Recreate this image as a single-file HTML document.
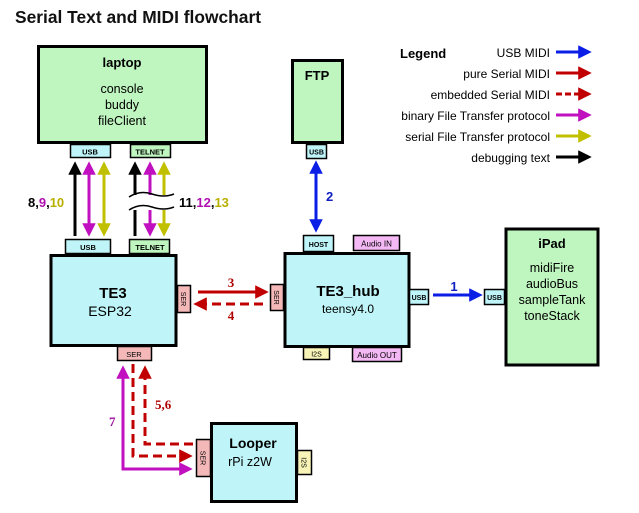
<!DOCTYPE html>
<html><head><style>
body{margin:0;background:#fff}
svg{display:block;font-family:"Liberation Sans",sans-serif}
</style></head><body>
<svg width="639" height="513" viewBox="0 0 639 513" xmlns="http://www.w3.org/2000/svg">
<defs>
<marker id="ab" viewBox="0 0 10 10" refX="8" refY="5" markerWidth="4.5" markerHeight="4.5" orient="auto-start-reverse"><path d="M0,0L10,5L0,10z" fill="#0a1ee6"/></marker>
<marker id="ar" viewBox="0 0 10 10" refX="8" refY="5" markerWidth="4.5" markerHeight="4.5" orient="auto-start-reverse"><path d="M0,0L10,5L0,10z" fill="#c00000"/></marker>
<marker id="am" viewBox="0 0 10 10" refX="8" refY="5" markerWidth="4.5" markerHeight="4.5" orient="auto-start-reverse"><path d="M0,0L10,5L0,10z" fill="#c010c0"/></marker>
<marker id="ay" viewBox="0 0 10 10" refX="8" refY="5" markerWidth="4.5" markerHeight="4.5" orient="auto-start-reverse"><path d="M0,0L10,5L0,10z" fill="#c0c000"/></marker>
<marker id="ak" viewBox="0 0 10 10" refX="8" refY="5" markerWidth="4.5" markerHeight="4.5" orient="auto-start-reverse"><path d="M0,0L10,5L0,10z" fill="#000"/></marker>
</defs>
<text x="15" y="23" font-size="17.5" font-weight="bold" fill="#111" textLength="246" lengthAdjust="spacingAndGlyphs">Serial Text and MIDI flowchart</text>

<!-- laptop -->
<rect x="38.5" y="46.5" width="168" height="96" fill="#bff5bf" stroke="#000" stroke-width="3"/>
<text x="122" y="67" font-size="13" font-weight="bold" text-anchor="middle">laptop</text>
<text x="122" y="93" font-size="12.5" text-anchor="middle">console</text>
<text x="122" y="109" font-size="12.5" text-anchor="middle">buddy</text>
<text x="122" y="125" font-size="12.5" text-anchor="middle">fileClient</text>
<rect x="70.5" y="144.5" width="40" height="13" fill="#bff5f8" stroke="#000" stroke-width="1.5"/>
<text x="90" y="154.5" font-size="7.5" font-weight="bold" text-anchor="middle">USB</text>
<rect x="130.5" y="144.5" width="40" height="13" fill="#bff5bf" stroke="#000" stroke-width="1.5"/>
<text x="150" y="154.5" font-size="7.5" font-weight="bold" text-anchor="middle">TELNET</text>

<!-- vertical arrows -->
<line x1="75" y1="236" x2="75" y2="164" stroke="#000" stroke-width="3" marker-end="url(#ak)"/>
<line x1="89" y1="164" x2="89" y2="234" stroke="#c010c0" stroke-width="3" marker-start="url(#am)" marker-end="url(#am)"/>
<line x1="104" y1="164" x2="104" y2="234" stroke="#c0c000" stroke-width="3" marker-start="url(#ay)" marker-end="url(#ay)"/>
<line x1="135" y1="236" x2="135" y2="164" stroke="#000" stroke-width="3" marker-end="url(#ak)"/>
<line x1="150" y1="164" x2="150" y2="234" stroke="#c010c0" stroke-width="3" marker-start="url(#am)" marker-end="url(#am)"/>
<line x1="164" y1="164" x2="164" y2="234" stroke="#c0c000" stroke-width="3" marker-start="url(#ay)" marker-end="url(#ay)"/>
<rect x="128" y="195" width="46" height="15" fill="#fff"/>
<path d="M129,197 Q140,190 152,194 T174,194" fill="none" stroke="#000" stroke-width="1.5"/>
<path d="M129,210 Q140,203 152,207 T174,207" fill="none" stroke="#000" stroke-width="1.5"/>
<text x="28" y="207" font-size="13" font-weight="bold"><tspan fill="#000">8,</tspan><tspan fill="#b010b0">9</tspan><tspan>,</tspan><tspan fill="#b8b000">10</tspan></text>
<text x="179" y="207" font-size="13" font-weight="bold"><tspan>11,</tspan><tspan fill="#b010b0">12</tspan><tspan>,</tspan><tspan fill="#b8b000">13</tspan></text>

<!-- TE3 -->
<rect x="65.5" y="239.5" width="45" height="14" fill="#bff5f8" stroke="#000" stroke-width="1.5"/>
<text x="88" y="250" font-size="7.5" font-weight="bold" text-anchor="middle">USB</text>
<rect x="129.5" y="239.5" width="40" height="14" fill="#bff5bf" stroke="#000" stroke-width="1.5"/>
<text x="150" y="250" font-size="7.5" font-weight="bold" text-anchor="middle">TELNET</text>
<rect x="51" y="255.5" width="125" height="90" fill="#bff5f8" stroke="#000" stroke-width="3"/>
<text x="113" y="298" font-size="15" font-weight="bold" text-anchor="middle">TE3</text>
<text x="110" y="316" font-size="14" text-anchor="middle">ESP32</text>
<rect x="177.5" y="285.5" width="13" height="27" fill="#f4b8b8" stroke="#000" stroke-width="1.5"/>
<text transform="translate(181,299) rotate(90)" font-size="7" text-anchor="middle">SER</text>
<rect x="117.5" y="346.5" width="34" height="14" fill="#f4b8b8" stroke="#000" stroke-width="1.5"/>
<text x="134" y="357" font-size="7.5" text-anchor="middle">SER</text>

<!-- 3/4 -->
<line x1="198" y1="292" x2="266" y2="292" stroke="#c00000" stroke-width="3" marker-end="url(#ar)"/>
<line x1="263" y1="304" x2="196" y2="304" stroke="#c00000" stroke-width="3" stroke-dasharray="9,5" marker-end="url(#ar)"/>
<text x="231" y="287" font-size="13" font-weight="bold" fill="#b00000" font-family="Liberation Serif,serif" text-anchor="middle">3</text>
<text x="231" y="320" font-size="13" font-weight="bold" fill="#b00000" font-family="Liberation Serif,serif" text-anchor="middle">4</text>

<!-- FTP -->
<rect x="292.5" y="60.5" width="50" height="82" fill="#bff5bf" stroke="#000" stroke-width="3"/>
<text x="317" y="80" font-size="13" font-weight="bold" text-anchor="middle">FTP</text>
<rect x="306.5" y="144.5" width="20" height="14" fill="#bff5f8" stroke="#000" stroke-width="1.5"/>
<text x="316.5" y="154.5" font-size="7" font-weight="bold" text-anchor="middle">USB</text>
<line x1="316" y1="163" x2="316" y2="230" stroke="#0a1ee6" stroke-width="3" marker-start="url(#ab)" marker-end="url(#ab)"/>
<text x="326" y="201" font-size="13" font-weight="bold" fill="#1020c0">2</text>

<!-- hub -->
<rect x="303.5" y="235.5" width="30" height="16" fill="#bff5f8" stroke="#000" stroke-width="1.5"/>
<text x="318.5" y="247" font-size="7" font-weight="bold" text-anchor="middle">HOST</text>
<rect x="353.5" y="235.5" width="46" height="15" fill="#f4b8f4" stroke="#000" stroke-width="1.5"/>
<text x="376.5" y="246.5" font-size="8" text-anchor="middle">Audio IN</text>
<rect x="285" y="253.5" width="124" height="93" fill="#bff5f8" stroke="#000" stroke-width="3"/>
<text x="348" y="296" font-size="15" font-weight="bold" text-anchor="middle">TE3_hub</text>
<text x="348" y="313" font-size="12" text-anchor="middle">teensy4.0</text>
<rect x="270.5" y="284.5" width="13" height="26" fill="#f4b8b8" stroke="#000" stroke-width="1.5"/>
<text transform="translate(274,297.5) rotate(90)" font-size="7" text-anchor="middle">SER</text>
<rect x="303.5" y="347.5" width="26" height="12" fill="#f8f4b8" stroke="#000" stroke-width="1.5"/>
<text x="316.5" y="356.5" font-size="7" text-anchor="middle">I2S</text>
<rect x="352.5" y="347.5" width="49" height="14" fill="#f4b8f4" stroke="#000" stroke-width="1.5"/>
<text x="377" y="358" font-size="8" text-anchor="middle">Audio OUT</text>
<rect x="409.5" y="289.5" width="19" height="15" fill="#bff5f8" stroke="#000" stroke-width="1.5"/>
<text x="419" y="300" font-size="7" font-weight="bold" text-anchor="middle">USB</text>
<line x1="433" y1="295" x2="480" y2="295" stroke="#0a1ee6" stroke-width="3" marker-end="url(#ab)"/>
<text x="454" y="291" font-size="13" font-weight="bold" fill="#1020c0" text-anchor="middle">1</text>

<!-- iPad -->
<rect x="484.5" y="289.5" width="20" height="15" fill="#bff5f8" stroke="#000" stroke-width="1.5"/>
<text x="494.5" y="300" font-size="7" font-weight="bold" text-anchor="middle">USB</text>
<rect x="506" y="229" width="92" height="136" fill="#bff5bf" stroke="#000" stroke-width="3"/>
<text x="552" y="248" font-size="13" font-weight="bold" text-anchor="middle">iPad</text>
<text x="552" y="272" font-size="12.5" text-anchor="middle">midiFire</text>
<text x="552" y="288" font-size="12.5" text-anchor="middle">audioBus</text>
<text x="552" y="304" font-size="12.5" text-anchor="middle">sampleTank</text>
<text x="552" y="320" font-size="12.5" text-anchor="middle">toneStack</text>

<!-- Legend -->
<text x="400" y="58" font-size="13" font-weight="bold">Legend</text>
<g font-size="12" text-anchor="end">
<text x="550" y="57">USB MIDI</text>
<text x="550" y="78">pure Serial MIDI</text>
<text x="550" y="99">embedded Serial MIDI</text>
<text x="550" y="120">binary File Transfer protocol</text>
<text x="550" y="141">serial File Transfer protocol</text>
<text x="550" y="162">debugging text</text>
</g>
<line x1="556" y1="52" x2="589" y2="52" stroke="#0a1ee6" stroke-width="3" marker-end="url(#ab)"/>
<line x1="556" y1="73" x2="589" y2="73" stroke="#c00000" stroke-width="3" marker-end="url(#ar)"/>
<line x1="556" y1="94" x2="589" y2="94" stroke="#c00000" stroke-width="3" stroke-dasharray="6,3" marker-end="url(#ar)"/>
<line x1="556" y1="115" x2="589" y2="115" stroke="#c010c0" stroke-width="3" marker-end="url(#am)"/>
<line x1="556" y1="136" x2="589" y2="136" stroke="#c0c000" stroke-width="3" marker-end="url(#ay)"/>
<line x1="556" y1="157" x2="589" y2="157" stroke="#000" stroke-width="3" marker-end="url(#ak)"/>

<!-- Looper connections -->
<polyline points="123,368 123,469 190,469" fill="none" stroke="#c010c0" stroke-width="3" marker-start="url(#am)" marker-end="url(#am)"/>
<polyline points="133,364 133,456 190,456" fill="none" stroke="#c00000" stroke-width="3" stroke-dasharray="9,5" marker-end="url(#ar)"/>
<polyline points="193,444 145,444 145,368" fill="none" stroke="#c00000" stroke-width="3" stroke-dasharray="9,5" marker-end="url(#ar)"/>
<text x="109" y="426" font-size="13" font-weight="bold" fill="#a010a0" font-family="Liberation Serif,serif">7</text>
<text x="155" y="409" font-size="13" font-weight="bold" fill="#b00000" font-family="Liberation Serif,serif">5,6</text>

<!-- Looper -->
<rect x="196.5" y="439.5" width="14" height="37" fill="#f4b8b8" stroke="#000" stroke-width="1.5"/>
<text transform="translate(200.5,458) rotate(90)" font-size="7" text-anchor="middle">SER</text>
<rect x="211.5" y="423.5" width="85" height="78" fill="#bff5f8" stroke="#000" stroke-width="3"/>
<text x="253" y="448" font-size="14" font-weight="bold" text-anchor="middle">Looper</text>
<text x="250" y="466" font-size="12.5" text-anchor="middle">rPi z2W</text>
<rect x="297.5" y="450.5" width="14" height="24" fill="#f8f4b8" stroke="#000" stroke-width="1.5"/>
<text transform="translate(301.5,462.5) rotate(90)" font-size="7" text-anchor="middle">I2S</text>
</svg>
</body></html>
